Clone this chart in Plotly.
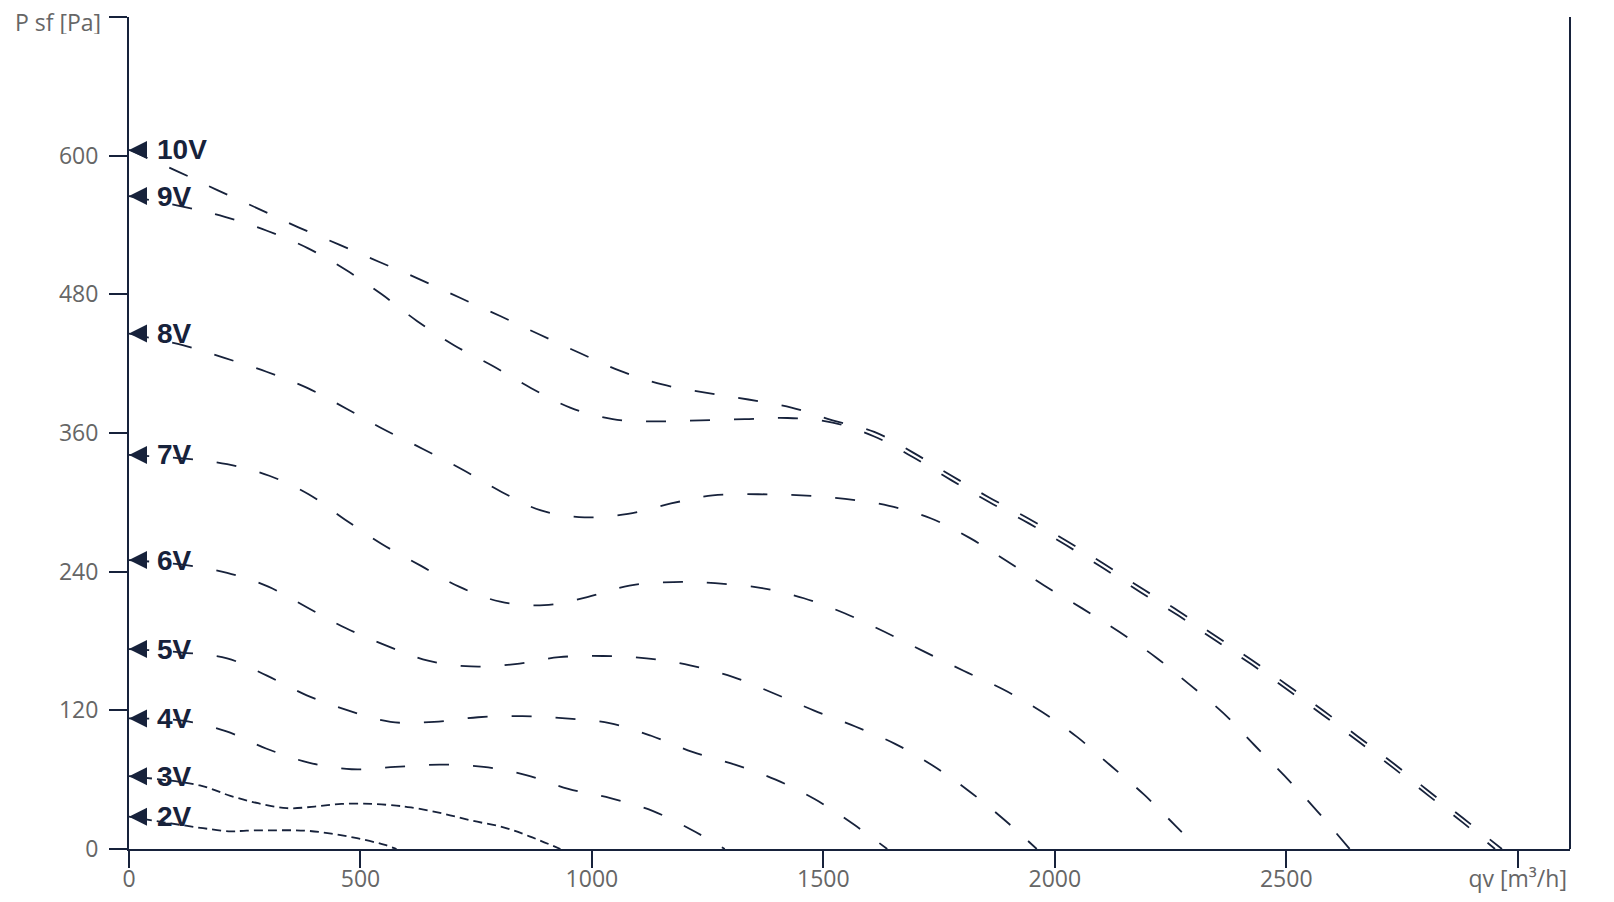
import plotly.graph_objects as go

# ---------------- data ----------------
labels = ["10V", "9V", "8V", "7V", "6V", "5V", "4V", "3V", "2V"]

q_10v = [0, 107, 192, 280, 366, 454, 541, 628, 715, 803, 888, 975, 1060, 1152, 1245, 1338, 1431, 1520,
         1610, 1694, 1777, 1859, 1943, 2024, 2105, 2186, 2267, 2345, 2424, 2502, 2579, 2656, 2732, 2808, 2881, 2966]
p_10v = [605, 586, 570, 554, 538, 523, 508, 493, 477, 461, 445, 429, 414, 402, 395, 389, 382, 371,
         361, 343, 323, 304, 286, 267, 247, 226, 206, 185, 164, 142, 120, 97, 74, 50, 27, 0]

q_9v = [0, 116, 207, 298, 386, 469, 546, 622, 702, 786, 868, 953, 1045, 1141, 1235, 1330, 1423, 1520,
        1610, 1694, 1777, 1859, 1943, 2024, 2105, 2186, 2267, 2345, 2424, 2502, 2579, 2656, 2732, 2808, 2881, 2951]
p_9v = [565, 556, 547, 535, 520, 501, 480, 457, 436, 418, 399, 382, 372, 370, 371, 372, 373, 369,
        357, 339, 319, 300, 282, 263, 243, 222, 202, 181, 160, 138, 116, 93, 70, 46, 23, 0]

q_8v = [0, 116, 206, 297, 385, 470, 551, 636, 722, 805, 890, 984, 1078, 1171, 1261, 1359, 1453, 1547,
        1642, 1733, 1817, 1897, 1977, 2060, 2139, 2218, 2292, 2363, 2431, 2497, 2562, 2637]
p_8v = [446, 436, 425, 413, 399, 381, 363, 346, 328, 309, 293, 287, 290, 299, 306, 307, 306, 303,
        297, 286, 269, 249, 228, 208, 188, 166, 142, 118, 90, 63, 35, 0]

q_7v = [0, 116, 212, 303, 388, 467, 546, 631, 713, 802, 897, 990, 1081, 1176, 1266, 1364, 1458, 1546,
        1632, 1717, 1804, 1889, 1971, 2048, 2121, 2193, 2261, 2310]
p_7v = [341, 338, 333, 323, 307, 285, 264, 245, 227, 214, 211, 218, 228, 231, 230, 226, 217, 204,
        188, 171, 154, 138, 119, 97, 72, 47, 20, 0]

q_6v = [0, 116, 212, 301, 385, 469, 556, 646, 739, 834, 929, 1024, 1118, 1212, 1304, 1391, 1479, 1569,
        1655, 1737, 1815, 1889, 1961]
p_6v = [250, 246, 239, 227, 209, 191, 176, 163, 158, 160, 166, 167, 165, 159, 149, 135, 120, 106,
        91, 72, 50, 26, 0]

q_5v = [0, 116, 212, 298, 384, 473, 565, 659, 754, 850, 943, 1038, 1128, 1217, 1309, 1397, 1482, 1563, 1638]
p_5v = [173, 170, 165, 150, 133, 120, 110, 110, 114, 115, 113, 109, 98, 84, 73, 60, 43, 22, 0]

q_4v = [0, 116, 209, 296, 386, 481, 575, 671, 766, 858, 949, 1040, 1131, 1218, 1287]
p_4v = [113, 111, 102, 87, 75, 69, 71, 73, 71, 64, 52, 44, 33, 16, 0]

q_3v = [0, 153, 219, 279, 341, 401, 459, 524, 578, 609, 675, 741, 807, 865, 932]
p_3v = [63, 55, 46, 39.6, 35.3, 36.7, 39, 39, 37.5, 36, 31, 24.5, 19, 11, 0]

q_2v = [0, 160, 221, 254, 319, 380, 437, 495, 553, 578]
p_2v = [28, 18, 15.3, 15.9, 16.2, 15.9, 13.3, 9.2, 3.5, 0]

x_ticks = [0, 500, 1000, 1500, 2000, 2500, 3000]
x_ticktext = ["0", "500", "1000", "1500", "2000", "2500", "qv [m³/h]"]
y_ticks = [0, 120, 240, 360, 480, 600, 720]
y_ticktext = ["0", "120", "240", "360", "480", "600", ""]
y_title = "P sf [Pa]"

x_max = 3113
y_max = 720

series = [
    (labels[0], q_10v, p_10v),
    (labels[1], q_9v, p_9v),
    (labels[2], q_8v, p_8v),
    (labels[3], q_7v, p_7v),
    (labels[4], q_6v, p_6v),
    (labels[5], q_5v, p_5v),
    (labels[6], q_4v, p_4v),
    (labels[7], q_3v, p_3v),
    (labels[8], q_2v, p_2v),
]

# ---------------- style ----------------
NAVY = "#17223b"
GREY = "#666666"
LONG_DASH = "20px,24px"
SHORT_DASH = "9px,5px"
TICK_FONT = dict(family="Open Sans, sans-serif", size=23, color=GREY)

fig = go.Figure()
annotations = []
for name, qs, ps in series:
    dash = SHORT_DASH if name in ("3V", "2V") else LONG_DASH
    fig.add_trace(go.Scatter(
        x=qs, y=ps, mode="lines", name=name,
        line=dict(color=NAVY, width=1.8, dash=dash, shape="spline"),
        hoverinfo="skip", showlegend=False,
    ))
    # arrow marker pointing at the axis
    annotations.append(dict(
        x=qs[0], y=ps[0], xref="x", yref="y", text="", showarrow=True,
        arrowhead=2, arrowsize=1.8, arrowwidth=2, arrowcolor=NAVY,
        ax=12, ay=0, axref="pixel", ayref="pixel",
    ))
    annotations.append(dict(
        x=qs[0], y=ps[0], xref="x", yref="y", text="<b>" + name + "</b>",
        showarrow=False, xanchor="left", yanchor="middle", xshift=26,
        font=dict(family="Liberation Sans, Arial, sans-serif", size=28, color=NAVY),
    ))

# y-axis title sitting beside the top tick
annotations.append(dict(
    x=0, y=y_max, xref="paper", yref="y", text=y_title, showarrow=False,
    xanchor="right", yanchor="middle", xshift=-27, yshift=-5, font=TICK_FONT,
    height=24, valign="middle", borderpad=0,
))

# the page body adds an 8px offset; the figure is sized to fill the rest of the window
fig.update_layout(
    width=1606, height=894,
    margin=dict(l=121, r=44, t=9, b=53, autoexpand=False),
    paper_bgcolor="white", plot_bgcolor="white",
    font=TICK_FONT,
    annotations=annotations,
    shapes=[dict(type="line", xref="paper", yref="paper", x0=1, x1=1, y0=0, y1=1,
                 line=dict(color=NAVY, width=2))],
)
fig.update_xaxes(
    range=[0, x_max], tickvals=x_ticks, ticktext=x_ticktext, automargin=False,
    showgrid=False, zeroline=False, showline=True, linecolor=NAVY, linewidth=2,
    ticks="outside", ticklen=17, tickwidth=2, tickcolor=NAVY, tickfont=TICK_FONT,
    ticklabelstandoff=-9, ticklabeloverflow="allow",
)
fig.update_yaxes(
    range=[0, y_max], tickvals=y_ticks, ticktext=y_ticktext, automargin=False,
    showgrid=False, zeroline=False, showline=True, linecolor=NAVY, linewidth=2,
    ticks="outside", ticklen=18, tickwidth=2, tickcolor=NAVY, tickfont=TICK_FONT,
    ticklabelstandoff=6, ticklabeloverflow="allow",
)

fig.write_html("out.html")
